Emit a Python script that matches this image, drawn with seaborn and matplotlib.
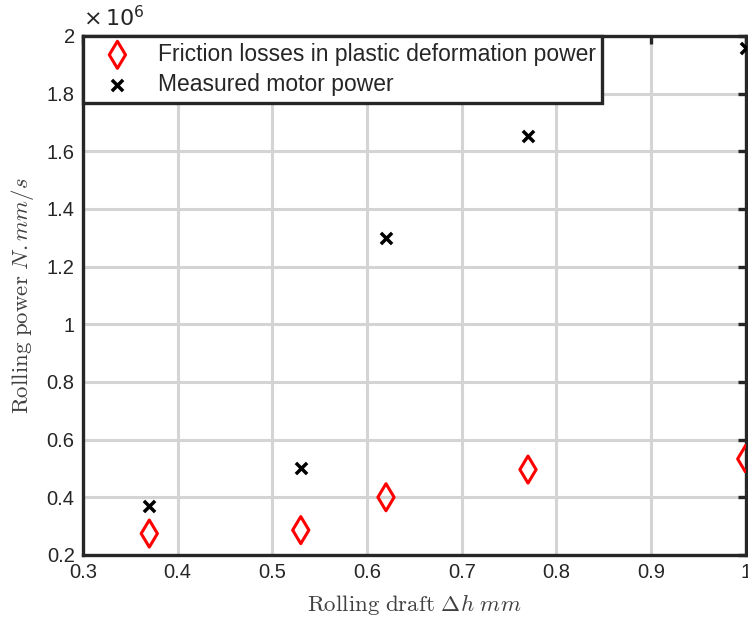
import matplotlib
matplotlib.use("Agg")
import matplotlib.pyplot as plt
import seaborn as sns
import pandas as pd
from matplotlib.ticker import FuncFormatter, MultipleLocator

draft = [0.37, 0.53, 0.62, 0.77, 1.0]
friction_losses = [0.274e6, 0.286e6, 0.40e6, 0.496e6, 0.533e6]
motor_power = [0.369e6, 0.50e6, 1.30e6, 1.652e6, 1.957e6]
series_names = ["Friction losses in plastic deformation power", "Measured motor power"]

sns.set_style("white")
plt.rcParams['font.family'] = ['Liberation Sans', 'DejaVu Sans']
plt.rcParams['mathtext.fontset'] = 'cm'

df = pd.DataFrame({
    "draft": draft * 2,
    "power": friction_losses + motor_power,
    "series": [series_names[0]] * len(draft) + [series_names[1]] * len(draft),
})

fig = plt.figure(figsize=(7.48, 6.2), dpi=100)
ax = fig.add_axes([0.111, 0.105, 0.886, 0.837])

sns.scatterplot(data=df[df.series == series_names[0]], x="draft", y="power", ax=ax,
                marker="d", s=190, facecolor="none", edgecolor="red", linewidth=2.2,
                label=series_names[0], zorder=3)
sns.scatterplot(data=df[df.series == series_names[1]], x="draft", y="power", ax=ax,
                marker="x", s=65, color="black", linewidth=2.5,
                label=series_names[1], zorder=3)

ax.set_xlim(0.3, 1.0)
ax.set_ylim(0.2e6, 2.0e6)
ax.xaxis.set_major_locator(MultipleLocator(0.1))
ax.yaxis.set_major_locator(MultipleLocator(0.2e6))
ax.xaxis.set_major_formatter(FuncFormatter(lambda v, p: f"{v:g}"))
ax.yaxis.set_major_formatter(FuncFormatter(lambda v, p: f"{v/1e6:.10g}"))

ax.grid(True, color="#d4d4d4", linewidth=2.2)
ax.set_axisbelow(True)
for sp in ax.spines.values():
    sp.set_color("#262626")
    sp.set_linewidth(2.4)
ax.tick_params(direction="in", length=6, width=2.4, color="#262626",
               top=True, right=True, labelsize=14.5, labelcolor="#262626", pad=6)

ax.set_xlabel(r"$\mathrm{Rolling\ draft}\ \Delta h\ mm$", fontsize=16.5, color="#404040", labelpad=7)
ax.set_ylabel(r"$\mathrm{Rolling\ power}\ N.mm/s$", fontsize=16.5, color="#404040", labelpad=8)

ax.text(0.0, 1.01, r"$\times\,10^{6}$", transform=ax.transAxes, fontsize=16,
        color="#262626", ha="left", va="bottom", math_fontfamily="dejavusans")

leg = ax.legend(loc="upper left", bbox_to_anchor=(0.0, 1.0), borderaxespad=0.0,
                fontsize=16.5, frameon=True, fancybox=False, framealpha=1,
                handletextpad=0.55, borderpad=0.3, labelspacing=0.32, handlelength=2.4)
leg.get_frame().set_edgecolor("#262626")
leg.get_frame().set_linewidth(2.4)

fig.savefig("out.png", dpi=100)
